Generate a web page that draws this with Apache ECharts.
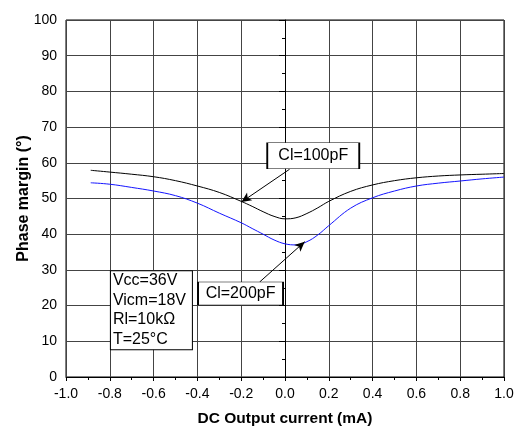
<!DOCTYPE html>
<html>
<head>
<meta charset="utf-8">
<script src="https://cdn.jsdelivr.net/npm/echarts@6/dist/echarts.min.js"></script>
<style>
html,body{margin:0;padding:0;background:#fff;}
#chart{width:523px;height:435px;}
</style>
</head>
<body>
<div id="chart"></div>
<script>
// Data
var currentMA = [-0.887, -0.8, -0.7, -0.6, -0.5, -0.4, -0.3, -0.2, -0.15, -0.1, -0.05, 0, 0.05, 0.1, 0.15, 0.2, 0.3, 0.4, 0.5, 0.6, 0.7, 0.8, 0.9, 1.0];
var pm100pF = [57.9, 57.4, 56.8, 56.1, 55.0, 53.5, 51.7, 49.2, 47.8, 46.3, 45.0, 44.3, 44.6, 45.8, 47.4, 49.2, 52.0, 53.8, 55.0, 55.8, 56.3, 56.6, 56.8, 57.0];
var pm200pF = [54.4, 54.0, 53.1, 52.1, 50.8, 48.7, 45.9, 43.2, 41.6, 40.0, 38.4, 37.3, 37.0, 37.9, 39.8, 42.4, 47.3, 50.2, 52.1, 53.5, 54.3, 54.9, 55.5, 56.0];
var seriesNames = ['Cl=100pF', 'Cl=200pF'];
var conditionsText = ['Vcc=36V', 'Vicm=18V', 'Rl=10k\u03A9', 'T=25\u00B0C'];
var xTitle = 'DC Output current (mA)';
var yTitle = 'Phase margin (\u00B0)';

function pairs(xs, ys) { return xs.map(function (x, i) { return [x, ys[i]]; }); }

var FONT = 'Liberation Sans, Arial, sans-serif';
var chart = echarts.init(document.getElementById('chart'));

function boxPoint(coord, text, w, h, extraLabel) {
  var lbl = Object.assign({
    show: true, formatter: text, color: '#000', fontSize: 16, fontFamily: FONT, position: 'inside'
  }, extraLabel || {});
  return {
    coord: coord, symbol: 'rect', symbolSize: [w, h],
    itemStyle: { color: '#fff', borderColor: '#000', borderWidth: 1 },
    label: lbl
  };
}

chart.setOption({
  animation: false,
  backgroundColor: '#fff',
  grid: { left: 66, right: 19, top: 20, bottom: 58, show: true, borderColor: '#000', borderWidth: 1, outerBoundsMode: 'none', containLabel: false },
  xAxis: {
    type: 'value', min: -1, max: 1, interval: 0.2,
    name: xTitle, nameLocation: 'middle', nameGap: 34, nameMoveOverlap: false,
    nameTextStyle: { fontSize: 15.5, fontWeight: 'bold', fontFamily: FONT, color: '#000' },
    axisLine: { show: true, onZero: false, lineStyle: { color: '#000', width: 1 } },
    axisTick: { show: true, inside: false, length: 4, lineStyle: { color: '#000' } },
    minorTick: { show: true, splitNumber: 2, length: 3, lineStyle: { color: '#000' } },
    axisLabel: { fontSize: 14, fontFamily: FONT, color: '#000', margin: 10, formatter: function (v) { return v.toFixed(1); } },
    splitLine: { show: true, lineStyle: { color: '#444', width: 1 } }
  },
  yAxis: {
    type: 'value', min: 0, max: 100, interval: 10,
    name: yTitle, nameLocation: 'middle', nameGap: 34, nameMoveOverlap: false,
    nameTextStyle: { fontSize: 16, fontWeight: 'bold', fontFamily: FONT, color: '#000' },
    axisLine: { show: true, lineStyle: { color: '#000', width: 1 } },
    axisTick: { show: true, inside: false, length: 6, lineStyle: { color: '#000' } },
    minorTick: { show: true, splitNumber: 2, length: 3, lineStyle: { color: '#000' } },
    axisLabel: { fontSize: 14, fontFamily: FONT, color: '#000', margin: 9 },
    splitLine: { show: true, lineStyle: { color: '#444', width: 1 } }
  },
  series: [
    {
      name: seriesNames[0], type: 'line', data: pairs(currentMA, pm100pF),
      smooth: 0.4, showSymbol: false, symbol: 'none', silent: true,
      lineStyle: { color: '#000', width: 1 },
      markLine: {
        silent: true, symbol: ['none', 'arrow'], symbolSize: [7, 10],
        label: { show: false },
        lineStyle: { color: '#000', type: 'solid', width: 1 },
        data: [[{ coord: [0.021, 58.2] }, { coord: [-0.199, 49.0] }]]
      },
      markPoint: {
        silent: true,
        data: [boxPoint([0.129, 62.0], seriesNames[0], 92, 26)]
      }
    },
    {
      name: seriesNames[1], type: 'line', data: pairs(currentMA, pm200pF),
      smooth: 0.4, showSymbol: false, symbol: 'none', silent: true,
      lineStyle: { color: '#1414ff', width: 1 },
      markLine: {
        silent: true, symbol: ['none', 'arrow'], symbolSize: [7, 10],
        label: { show: false },
        lineStyle: { color: '#000', type: 'solid', width: 1 },
        data: [[{ coord: [-0.116, 26.6] }, { coord: [0.090, 37.9] }]]
      },
      markPoint: {
        silent: true,
        data: [
          boxPoint([-0.203, 23.4], seriesNames[1], 85, 23),
          boxPoint([-0.610, 18.7], conditionsText.join('\n'), 82, 79,
            { position: 'insideLeft', distance: 3, align: 'left', lineHeight: 19.5 })
        ]
      }
    }
  ]
});
</script>
</body>
</html>
